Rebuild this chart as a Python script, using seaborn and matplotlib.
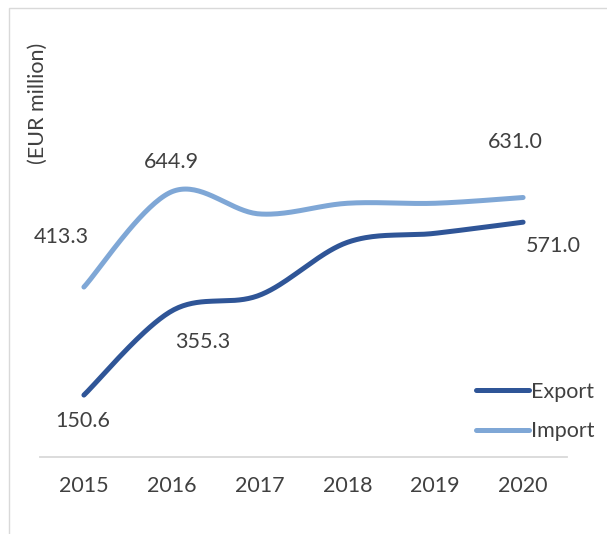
import numpy as np
import pandas as pd
import matplotlib
matplotlib.use("Agg")
import matplotlib.pyplot as plt
import seaborn as sns
from matplotlib.patches import Rectangle

# data (EUR million)
years = ["2015", "2016", "2017", "2018", "2019", "2020"]
export_vals = [150.6, 355.3, 393.5, 522.0, 544.0, 571.0]
import_vals = [413.3, 644.9, 591.0, 617.0, 617.0, 631.0]
labelled_export = {0: "150.6", 1: "355.3", 5: "571.0"}
labelled_import = {0: "413.3", 1: "644.9", 5: "631.0"}

EXPORT_C = "#2F5597"
IMPORT_C = "#7FA7D6"
TEXT_C = "#404040"
FS = 15.5


def smooth(ys, n=40):
    # Excel-like smoothed line (Catmull-Rom bezier through the points)
    pts = np.column_stack([np.arange(len(ys)), ys]).astype(float)
    p = np.vstack([pts[0], pts, pts[-1]])
    out = []
    t = np.linspace(0, 1, n)[:, None]
    for i in range(1, len(p) - 2):
        p0, p1, p2, p3 = p[i - 1], p[i], p[i + 1], p[i + 2]
        c1 = p1 + (p2 - p0) / 6
        c2 = p2 - (p3 - p1) / 6
        seg = ((1 - t) ** 3) * p1 + 3 * ((1 - t) ** 2) * t * c1 + 3 * (1 - t) * t ** 2 * c2 + t ** 3 * p2
        out.append(seg if i == 1 else seg[1:])
    return np.vstack(out)


frames = []
for name, vals in [("Export", export_vals), ("Import", import_vals)]:
    xy = smooth(vals)
    frames.append(pd.DataFrame({"x": xy[:, 0], "y": xy[:, 1], "series": name}))
df = pd.concat(frames, ignore_index=True)

sns.set_style("white")
plt.rcParams["font.family"] = ["Lato", "DejaVu Sans"]

fig = plt.figure(figsize=(6.07, 5.34), dpi=100)
ax = fig.add_axes([40 / 607, 77 / 534, 527 / 607, 329 / 534])

sns.lineplot(data=df, x="x", y="y", hue="series", sort=False, estimator=None,
             palette={"Export": EXPORT_C, "Import": IMPORT_C}, linewidth=3.6,
             solid_capstyle="round", ax=ax)

ax.set_xlim(-0.5, 5.5)
ax.set_ylim(0, 800)
ax.set_xticks(range(len(years)))
ax.set_xticklabels(years)
ax.set_yticks([])
ax.set_xlabel("")
ax.set_ylabel("")
for s in ["top", "right", "left"]:
    ax.spines[s].set_visible(False)
ax.spines["bottom"].set_color("#D9D9D9")
ax.spines["bottom"].set_linewidth(1.3)
ax.tick_params(axis="x", length=0, pad=14, labelsize=FS, labelcolor=TEXT_C)

# data labels
exp_off = {0: (-0.7, -18.7), 1: (22.3, -22.3), 5: (21.6, -17.3)}
imp_off = {0: (-16.6, 36), 1: (0, 21.6), 5: (-5.8, 40.3)}
for i, txt in labelled_export.items():
    ax.annotate(txt, (i, export_vals[i]), xytext=exp_off[i], textcoords="offset points",
                ha="center", va="center", fontsize=FS, color=TEXT_C, annotation_clip=False)
for i, txt in labelled_import.items():
    ax.annotate(txt, (i, import_vals[i]), xytext=imp_off[i], textcoords="offset points",
                ha="center", va="center", fontsize=FS, color=TEXT_C, annotation_clip=False)

leg = ax.legend(loc="upper left", bbox_to_anchor=(465 / 607, 1 - 371 / 534),
                bbox_transform=fig.transFigure, frameon=False, fontsize=FS,
                handlelength=2.45, handletextpad=0.12, labelspacing=0.9, borderpad=0)
for h in leg.get_lines():
    h.set_linewidth(3.6)
    h.set_solid_capstyle("round")
for t in leg.get_texts():
    t.set_color(TEXT_C)

fig.text(38 / 607, 1 - 103 / 534, "(EUR million)", rotation=90, ha="center", va="center",
         fontsize=FS, color=TEXT_C)

# chart border
fig.patches.append(Rectangle((9 / 607, -0.1), 1.2, 1.1 - 8 / 534, transform=fig.transFigure,
                             fill=False, edgecolor="#D9D9D9", linewidth=1.0))

fig.savefig("out.png", dpi=100)
